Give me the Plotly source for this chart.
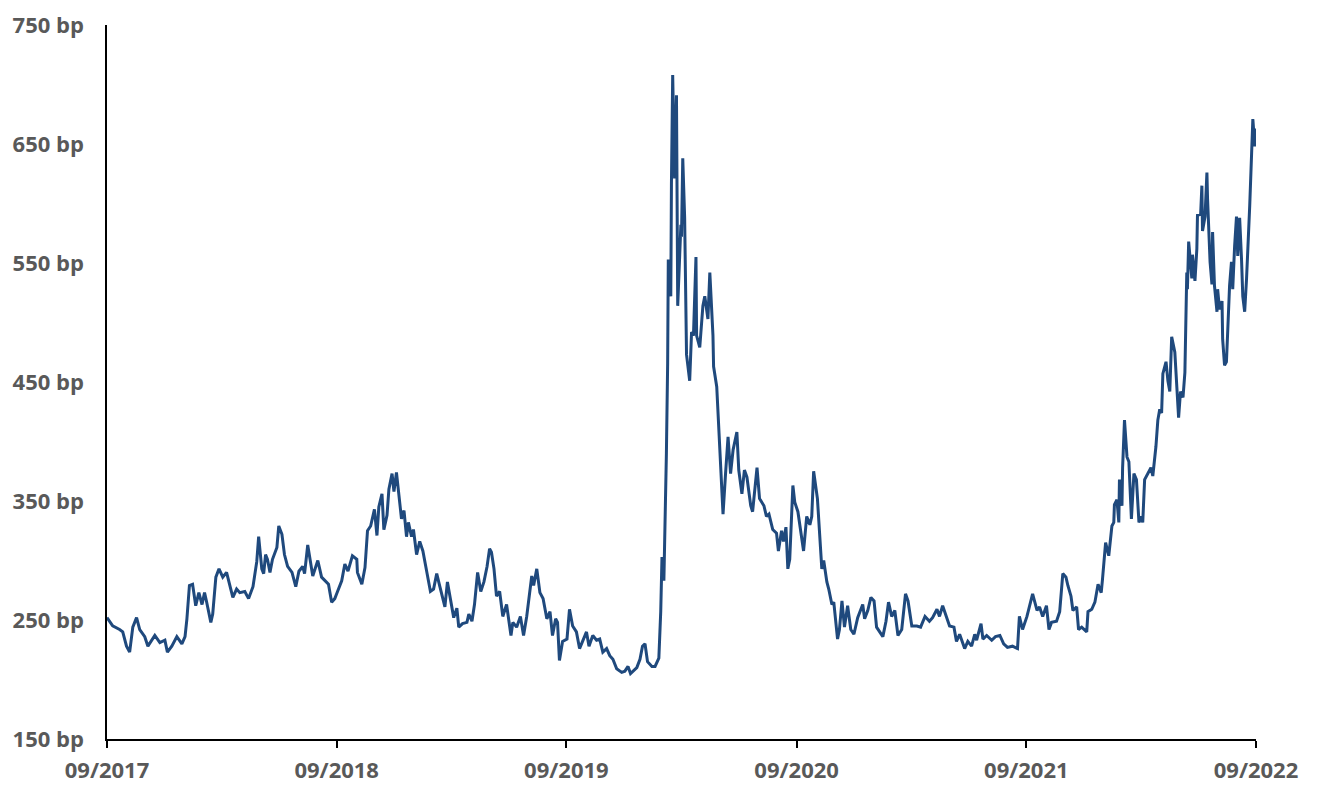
import plotly.graph_objects as go

# ---- data (spread in bp) ----
dates_2017 = ["2017-09-01", "2017-09-10", "2017-09-21", "2017-09-26", "2017-10-02", "2017-10-07",
              "2017-10-12", "2017-10-18", "2017-10-23", "2017-10-31", "2017-11-05", "2017-11-16",
              "2017-11-24", "2017-12-02", "2017-12-06", "2017-12-13", "2017-12-21", "2017-12-29"]
vals_2017 = [252, 245, 242, 240, 228, 223, 244, 252, 242, 236, 228, 237, 231, 233, 223, 228, 236, 230]

dates_2018 = ["2018-01-03", "2018-01-06", "2018-01-10", "2018-01-15", "2018-01-20", "2018-01-25",
              "2018-01-30", "2018-02-03", "2018-02-06", "2018-02-13", "2018-02-16", "2018-02-21",
              "2018-02-26", "2018-03-04", "2018-03-10", "2018-03-15", "2018-03-20", "2018-03-26",
              "2018-03-31", "2018-04-08", "2018-04-14", "2018-04-21", "2018-04-27", "2018-04-30",
              "2018-05-05", "2018-05-08", "2018-05-11", "2018-05-14", "2018-05-18", "2018-05-22",
              "2018-05-29", "2018-06-01", "2018-06-06", "2018-06-10", "2018-06-15", "2018-06-22",
              "2018-06-28", "2018-07-03", "2018-07-09", "2018-07-12", "2018-07-17", "2018-07-25",
              "2018-08-02", "2018-08-08", "2018-08-15", "2018-08-19", "2018-08-24", "2018-08-29",
              "2018-09-01", "2018-09-09", "2018-09-14", "2018-09-19", "2018-09-26", "2018-10-03",
              "2018-10-04", "2018-10-11", "2018-10-16", "2018-10-20", "2018-10-25", "2018-10-28",
              "2018-10-31", "2018-11-04", "2018-11-07", "2018-11-12", "2018-11-15", "2018-11-20",
              "2018-11-23", "2018-11-28", "2018-12-01", "2018-12-05", "2018-12-09", "2018-12-13",
              "2018-12-17", "2018-12-21", "2018-12-24", "2018-12-29"]
vals_2018 = [236, 251, 279, 280, 262, 273,
             263, 273, 266, 248, 255, 286,
             293, 286, 290, 280, 269, 276,
             273, 274, 268, 278, 299, 320,
             293, 289, 305, 301, 290, 301,
             311, 329, 322, 305, 295, 290,
             278, 291, 295, 289, 313, 287,
             300, 286, 282, 280, 265, 268,
             272, 283, 297, 291, 304, 301,
             290, 280, 294, 325, 329, 335,
             343, 321, 345, 356, 326, 338,
             360, 373, 358, 374, 352, 335,
             342, 320, 332, 320]

dates_2019 = ["2019-01-01", "2019-01-06", "2019-01-11", "2019-01-16", "2019-01-22", "2019-01-28",
              "2019-02-02", "2019-02-07", "2019-02-12", "2019-02-17", "2019-02-20", "2019-02-24",
              "2019-03-01", "2019-03-06", "2019-03-11", "2019-03-14", "2019-03-20", "2019-03-27",
              "2019-03-30", "2019-04-04", "2019-04-08", "2019-04-13", "2019-04-18", "2019-04-23",
              "2019-04-28", "2019-05-02", "2019-05-05", "2019-05-09", "2019-05-13", "2019-05-18",
              "2019-05-23", "2019-05-29", "2019-06-05", "2019-06-08", "2019-06-14", "2019-06-20",
              "2019-06-25", "2019-06-30", "2019-07-08", "2019-07-11", "2019-07-16", "2019-07-21",
              "2019-07-26", "2019-08-01", "2019-08-06", "2019-08-10", "2019-08-15", "2019-08-18",
              "2019-08-21", "2019-08-26", "2019-09-02", "2019-09-06", "2019-09-11", "2019-09-17",
              "2019-09-22", "2019-09-27", "2019-10-03", "2019-10-07", "2019-10-13", "2019-10-19",
              "2019-10-24", "2019-10-29", "2019-11-04", "2019-11-09", "2019-11-14", "2019-11-20",
              "2019-11-28", "2019-12-03", "2019-12-08", "2019-12-12", "2019-12-16", "2019-12-22",
              "2019-12-27", "2019-12-31"]
vals_2019 = [326, 305, 316, 308, 291, 274,
             276, 289, 278, 268, 261, 282,
             266, 252, 260, 244, 247, 248,
             255, 249, 263, 290, 274, 282,
             295, 310, 307, 293, 270, 274,
             253, 263, 237, 248, 244, 253,
             237, 253, 287, 279, 293, 273,
             268, 251, 257, 237, 251, 248,
             216, 232, 234, 259, 245, 240,
             226, 232, 240, 228, 237, 233,
             234, 223, 226, 220, 217, 209,
             206, 207, 211, 205, 207, 210,
             217, 228]

dates_2020 = ["2020-01-04", "2020-01-08", "2020-01-15", "2020-01-20", "2020-01-26", "2020-01-29",
              "2020-01-31", "2020-02-03", "2020-02-07", "2020-02-09", "2020-02-10", "2020-02-14",
              "2020-02-15", "2020-02-17", "2020-02-20", "2020-02-23", "2020-02-25", "2020-03-01",
              "2020-03-02", "2020-03-04", "2020-03-07", "2020-03-10", "2020-03-15", "2020-03-18",
              "2020-03-21", "2020-03-25", "2020-03-26", "2020-03-31", "2020-04-05", "2020-04-08",
              "2020-04-13", "2020-04-16", "2020-04-21", "2020-04-22", "2020-04-27", "2020-04-30",
              "2020-05-07", "2020-05-11", "2020-05-15", "2020-05-19", "2020-05-23", "2020-05-29",
              "2020-06-01", "2020-06-06", "2020-06-10", "2020-06-14", "2020-06-20", "2020-06-23",
              "2020-06-30", "2020-07-04", "2020-07-11", "2020-07-15", "2020-07-19", "2020-07-25",
              "2020-07-31", "2020-08-03", "2020-08-08", "2020-08-11", "2020-08-15", "2020-08-18",
              "2020-08-21", "2020-08-26", "2020-08-29", "2020-09-03", "2020-09-09", "2020-09-12",
              "2020-09-17", "2020-09-22", "2020-09-25", "2020-09-28", "2020-10-04", "2020-10-08",
              "2020-10-11", "2020-10-14", "2020-10-19", "2020-10-22", "2020-10-27", "2020-10-30",
              "2020-11-02", "2020-11-05", "2020-11-08", "2020-11-12", "2020-11-16", "2020-11-21",
              "2020-11-26", "2020-12-01", "2020-12-07", "2020-12-15", "2020-12-18", "2020-12-23",
              "2020-12-28"]
vals_2020 = [230, 215, 211, 211, 218, 257,
             303, 283, 390, 466, 553, 522,
             616, 708, 621, 691, 514, 582,
             572, 638, 588, 473, 451, 492,
             489, 555, 489, 479, 514, 522,
             503, 542, 489, 463, 446, 417,
             339, 373, 404, 373, 393, 408,
             376, 356, 376, 370, 346, 341,
             378, 352, 346, 337, 339, 326,
             323, 308, 325, 316, 328, 293,
             301, 363, 349, 341, 316, 308,
             337, 330, 337, 375, 352, 323,
             293, 300, 282, 276, 263, 265,
             248, 234, 242, 266, 244, 262,
             242, 238, 252, 263, 251, 258,
             269]

dates_2021 = ["2021-01-02", "2021-01-06", "2021-01-16", "2021-01-21", "2021-01-25", "2021-01-30",
              "2021-02-04", "2021-02-09", "2021-02-15", "2021-02-21", "2021-02-25", "2021-03-03",
              "2021-03-11", "2021-03-17", "2021-03-24", "2021-03-31", "2021-04-05", "2021-04-12",
              "2021-04-16", "2021-04-21", "2021-04-27", "2021-05-02", "2021-05-09", "2021-05-13",
              "2021-05-18", "2021-05-26", "2021-05-31", "2021-06-06", "2021-06-11", "2021-06-14",
              "2021-06-21", "2021-06-24", "2021-06-30", "2021-07-08", "2021-07-14", "2021-07-21",
              "2021-07-27", "2021-08-02", "2021-08-10", "2021-08-18", "2021-08-21", "2021-08-26",
              "2021-09-02", "2021-09-08", "2021-09-11", "2021-09-18", "2021-09-22", "2021-09-27",
              "2021-10-03", "2021-10-07", "2021-10-11", "2021-10-19", "2021-10-24", "2021-10-29",
              "2021-11-03", "2021-11-06", "2021-11-11", "2021-11-14", "2021-11-20", "2021-11-23",
              "2021-11-28", "2021-12-06", "2021-12-08", "2021-12-14", "2021-12-19", "2021-12-24",
              "2021-12-29", "2021-12-31"]
vals_2021 = [266, 244, 236, 249, 265, 253,
             258, 237, 242, 272, 266, 245,
             245, 244, 253, 249, 252, 259,
             253, 262, 253, 245, 244, 232,
             238, 226, 232, 228, 238, 233,
             247, 234, 237, 233, 236, 237,
             230, 227, 228, 226, 253, 242,
             253, 265, 272, 258, 261, 253,
             262, 242, 248, 249, 257, 289,
             286, 279, 270, 258, 261, 242,
             244, 240, 257, 259, 265, 280,
             273, 284]

dates_2022 = ["2022-01-05", "2022-01-10", "2022-01-15", "2022-01-18", "2022-01-19", "2022-01-23",
              "2022-01-26", "2022-01-27", "2022-01-31", "2022-02-01", "2022-02-04", "2022-02-08",
              "2022-02-11", "2022-02-15", "2022-02-19", "2022-02-23", "2022-02-27", "2022-03-03",
              "2022-03-05", "2022-03-08", "2022-03-13", "2022-03-18", "2022-03-21", "2022-03-26",
              "2022-03-29", "2022-04-01", "2022-04-04", "2022-04-06", "2022-04-11", "2022-04-14",
              "2022-04-17", "2022-04-20", "2022-04-25", "2022-04-28", "2022-05-01", "2022-05-04",
              "2022-05-08", "2022-05-11", "2022-05-14", "2022-05-15", "2022-05-17", "2022-05-22",
              "2022-05-23", "2022-05-27", "2022-05-30", "2022-05-31", "2022-06-05", "2022-06-07",
              "2022-06-08", "2022-06-12", "2022-06-15", "2022-06-16", "2022-06-20", "2022-06-23",
              "2022-06-24", "2022-06-27", "2022-07-01", "2022-07-02", "2022-07-05", "2022-07-09",
              "2022-07-10", "2022-07-13", "2022-07-16", "2022-07-18", "2022-07-21", "2022-07-24",
              "2022-07-26", "2022-07-29", "2022-08-01", "2022-08-03", "2022-08-06", "2022-08-09",
              "2022-08-11", "2022-08-14", "2022-08-17", "2022-08-22", "2022-08-25", "2022-08-27",
              "2022-08-30", "2022-09-01"]
vals_2022 = [315, 304, 329, 332, 347, 351,
             332, 368, 346, 378, 418, 387,
             383, 335, 373, 368, 332, 337,
             332, 368, 373, 378, 371, 396,
             418, 427, 424, 457, 467, 451,
             442, 488, 475, 442, 420, 442,
             437, 458, 542, 528, 568, 537,
             557, 535, 562, 590, 591, 615,
             577, 589, 626, 604, 551, 532,
             576, 531, 509, 528, 511, 518,
             486, 464, 467, 492, 531, 551,
             528, 564, 589, 556, 588, 553,
             522, 509, 537, 598, 646, 671,
             648, 663]

x_tick_vals = ["2017-09-01", "2018-09-01", "2019-09-01", "2020-09-01", "2021-09-01", "2022-09-01"]
x_tick_text = ["09/2017", "09/2018", "09/2019", "09/2020", "09/2021", "09/2022"]
y_tick_vals = [150, 250, 350, 450, 550, 650, 750]
y_tick_text = [f"{v} bp" for v in y_tick_vals]

dates = dates_2017 + dates_2018 + dates_2019 + dates_2020 + dates_2021 + dates_2022
values = vals_2017 + vals_2018 + vals_2019 + vals_2020 + vals_2021 + vals_2022
assert len(dates) == len(values)

LINE = "#1F497D"
TXT = "#595959"
FAMILY = "Open Sans, Noto Sans, sans-serif"

fig = go.Figure(go.Scatter(x=dates, y=values, mode="lines",
                           line=dict(color=LINE, width=3), hoverinfo="x+y"))

# the page body adds an 8px offset, so margins are set to compensate
fig.update_layout(
    width=1322, height=800,
    margin=dict(l=99, r=74, t=17, b=69, autoexpand=False),
    paper_bgcolor="white", plot_bgcolor="white",
    showlegend=False,
    font=dict(family=FAMILY, size=22, color=TXT),
)
fig.update_xaxes(
    type="date", range=["2017-09-01", "2022-09-01"], automargin=False,
    tickmode="array", tickvals=x_tick_vals, ticktext=x_tick_text,
    showgrid=False, zeroline=False,
    showline=True, linecolor="black", linewidth=1.5,
    ticks="outside", ticklen=7, tickwidth=1.5, tickcolor="black",
    ticklabelstandoff=4,
    tickfont=dict(family=FAMILY, size=22, color=TXT, weight="bold"),
)
fig.update_yaxes(
    range=[150, 750], automargin=False,
    tickmode="array", tickvals=y_tick_vals, ticktext=y_tick_text,
    showgrid=False, zeroline=False,
    showline=True, linecolor="black", linewidth=1.5,
    ticks="", ticklabelstandoff=17,
    tickfont=dict(family=FAMILY, size=22, color=TXT, weight="bold"),
)

fig.write_html("out.html")
